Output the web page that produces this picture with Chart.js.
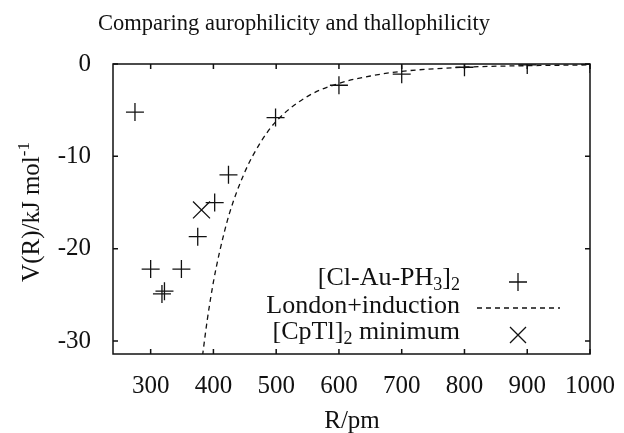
<!DOCTYPE html>
<html>
<head>
<meta charset="utf-8">
<script src="https://cdn.jsdelivr.net/npm/chart.js@4.4.0/dist/chart.umd.min.js"></script>
<style>
  html, body { margin: 0; padding: 0; background: #fff; }
  #wrap { width: 624px; height: 433px; }
</style>
</head>
<body>
<div id="wrap"><canvas id="chart"></canvas></div>
<script>
// data
var auR = [275, 300, 318, 322, 349, 375, 402, 424, 499, 600, 700, 800, 900, 1000];
var auV = [-5.2, -22.2, -24.9, -24.6, -22.2, -18.7, -15.0, -12.0, -5.8, -2.3, -1.1, -0.35, -0.1, 0];

var londonR = [379, 383, 390, 400, 410, 425, 450, 475, 500, 550, 600, 650, 700, 800, 900, 1000];
var londonV = [-33.5, -31.4, -27.8, -23.6, -20.3, -16.3, -11.7, -8.5, -6.2, -3.5, -2.1, -1.3, -0.8, -0.35, -0.18, -0.1];

var cptlR = [381];
var cptlV = [-15.8];

var xTicks = [300, 400, 500, 600, 700, 800, 900, 1000];
var yTicks = [-30, -20, -10, 0];

function pts(xs, ys) {
  return xs.map(function (x, i) { return { x: x, y: ys[i] }; });
}

var serif = '"Liberation Serif", "DejaVu Serif", serif';
var big = '25px ' + serif;
var small = '17px ' + serif;
var legBig = '26px ' + serif;
var legSmall = '18px ' + serif;

// frame, inward ticks, titles and legend (gnuplot style)
var decor = {
  id: 'decor',
  afterDraw: function (chart) {
    var ctx = chart.ctx;
    var a = chart.chartArea;
    var xs = chart.scales.x, ys = chart.scales.y;
    ctx.save();
    ctx.strokeStyle = '#111';
    ctx.lineWidth = 1.5;
    ctx.strokeRect(a.left, a.top, a.right - a.left, a.bottom - a.top);
    ctx.beginPath();
    xTicks.forEach(function (t) {
      var px = xs.getPixelForValue(t);
      ctx.moveTo(px, a.bottom); ctx.lineTo(px, a.bottom - 5);
      ctx.moveTo(px, a.top); ctx.lineTo(px, a.top + 5);
    });
    yTicks.forEach(function (t) {
      var py = ys.getPixelForValue(t);
      ctx.moveTo(a.left, py); ctx.lineTo(a.left + 5, py);
      ctx.moveTo(a.right, py); ctx.lineTo(a.right - 5, py);
    });
    ctx.stroke();

    ctx.fillStyle = '#111';
    ctx.textBaseline = 'alphabetic';

    // title
    ctx.font = '22.5px ' + serif;
    ctx.textAlign = 'center';
    ctx.fillText('Comparing aurophilicity and thallophilicity', 294, 30);

    // x title
    ctx.font = big;
    ctx.fillText('R/pm', 352, 428);

    // y title with superscript
    ctx.save();
    ctx.translate(39, 212);
    ctx.rotate(-Math.PI / 2);
    ctx.textAlign = 'left';
    var main = 'V(R)/kJ mol';
    ctx.font = big;
    var w = ctx.measureText(main).width;
    ctx.font = small;
    var sw = ctx.measureText('-1').width;
    var x0 = -(w + sw) / 2;
    ctx.font = big;
    ctx.fillText(main, x0, 0);
    ctx.font = small;
    ctx.fillText('-1', x0 + w, -10);
    ctx.restore();

    // legend
    function rich(parts, right, base) {
      var total = 0;
      parts.forEach(function (p) {
        ctx.font = p.sub ? legSmall : legBig;
        total += ctx.measureText(p.t).width;
      });
      var x = right - total;
      ctx.textAlign = 'left';
      parts.forEach(function (p) {
        ctx.font = p.sub ? legSmall : legBig;
        ctx.fillText(p.t, x, base + (p.sub ? 5 : 0));
        x += ctx.measureText(p.t).width;
      });
    }
    var rx = 460;
    rich([{ t: '[Cl-Au-PH' }, { t: '3', sub: true }, { t: ']' }, { t: '2', sub: true }], rx, 285);
    rich([{ t: 'London+induction' }], rx, 313);
    rich([{ t: '[CpTl]' }, { t: '2', sub: true }, { t: ' minimum' }], rx, 339);

    var cx = 518;
    ctx.lineWidth = 1.3;
    ctx.beginPath();
    ctx.moveTo(cx - 9, 282); ctx.lineTo(cx + 9, 282);
    ctx.moveTo(cx, 273); ctx.lineTo(cx, 291);
    ctx.stroke();
    ctx.setLineDash([5, 4]);
    ctx.beginPath();
    ctx.moveTo(477, 308); ctx.lineTo(560, 308);
    ctx.stroke();
    ctx.setLineDash([]);
    ctx.beginPath();
    ctx.moveTo(cx - 8, 327); ctx.lineTo(cx + 8, 343);
    ctx.moveTo(cx + 8, 327); ctx.lineTo(cx - 8, 343);
    ctx.stroke();
    ctx.restore();
  }
};

var ctx = document.getElementById('chart').getContext('2d');

new Chart(ctx, {
  type: 'scatter',
  data: {
    datasets: [
      {
        label: '[Cl-Au-PH3]2',
        data: pts(auR, auV),
        pointStyle: 'cross',
        pointRadius: 9,
        pointHoverRadius: 9,
        borderColor: '#111',
        borderWidth: 1.3,
        showLine: false
      },
      {
        label: 'London+induction',
        data: pts(londonR, londonV),
        showLine: true,
        pointRadius: 0,
        borderColor: '#111',
        borderWidth: 1.3,
        borderDash: [5, 4],
        cubicInterpolationMode: 'monotone',
        fill: false
      },
      {
        label: '[CpTl]2 minimum',
        data: pts(cptlR, cptlV),
        pointStyle: 'crossRot',
        pointRadius: 12,
        pointHoverRadius: 12,
        borderColor: '#111',
        borderWidth: 1.3,
        showLine: false
      }
    ]
  },
  options: {
    responsive: true,
    maintainAspectRatio: false,
    animation: false,
    layout: { padding: { top: 64, right: 33, left: 0, bottom: 0 } },
    plugins: {
      legend: { display: false },
      title: { display: false },
      tooltip: { enabled: false }
    },
    scales: {
      x: {
        type: 'linear',
        min: 240,
        max: 1000,
        afterBuildTicks: function (s) { s.ticks = xTicks.map(function (v) { return { value: v }; }); },
        afterFit: function (s) { s.height = 433 - 354; },
        grid: { display: false },
        border: { display: false },
        ticks: {
          color: '#111', font: { family: serif, size: 25 }, padding: 9, maxRotation: 0,
          callback: function (v) { return String(v); }
        }
      },
      y: {
        type: 'linear',
        min: -31.4,
        max: 0,
        afterBuildTicks: function (s) { s.ticks = yTicks.map(function (v) { return { value: v }; }); },
        afterFit: function (s) { s.width = 113; },
        grid: { display: false },
        border: { display: false },
        ticks: {
          color: '#111', font: { family: serif, size: 25 }, padding: 14,
          callback: function (v) { return String(v); }
        }
      }
    }
  },
  plugins: [decor]
});
</script>
</body>
</html>
